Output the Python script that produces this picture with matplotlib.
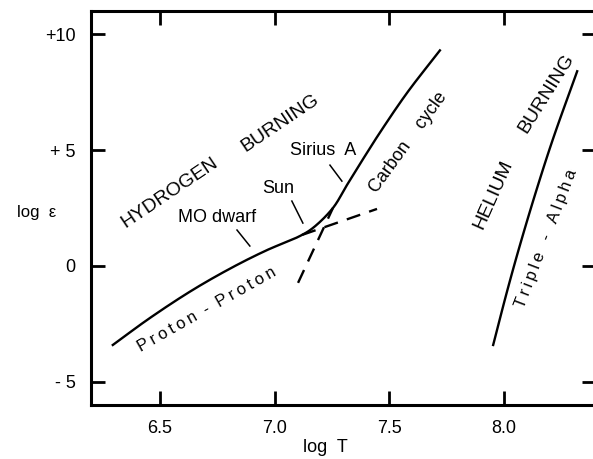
import matplotlib
matplotlib.use("Agg")
import matplotlib.pyplot as plt
import numpy as np

plt.rcParams['font.family'] = ['Liberation Sans', 'DejaVu Sans']

# Data (log T, log epsilon)
main_x = [6.295, 6.456, 6.644, 6.818, 6.966, 7.110, 7.167, 7.254, 7.315, 7.385, 7.459, 7.577, 7.72]
main_y = [-3.41, -2.25, -1.03, -0.05, 0.68, 1.29, 1.64, 2.50, 3.49, 4.61, 5.76, 7.47, 9.30]

pp_dash_x = [7.12, 7.446]
pp_dash_y = [1.34, 2.46]

cno_dash_x = [7.102, 7.254]
cno_dash_y = [-0.73, 2.50]

alpha_x = [7.952, 8.013, 8.069, 8.143, 8.213, 8.318]
alpha_y = [-3.41, -1.08, 0.91, 3.35, 5.49, 8.40]

xticks = [6.5, 7.0, 7.5, 8.0]
xticklabels = ["6.5", "7.0", "7.5", "8.0"]
yticks = [10, 5, 0, -5]
yticklabels = ["+10", "+ 5", "0", "- 5"]

YSCALE = 0.1011  # ratio of y-units to x-units on screen, for smoothing only


def smooth(xs, ys, n=24):
    """Centripetal Catmull-Rom path through the given points (drawing only)."""
    p = np.column_stack([xs, np.asarray(ys) * YSCALE]).astype(float)
    p = np.vstack([2 * p[0] - p[1], p, 2 * p[-1] - p[-2]])
    out = []
    for i in range(1, len(p) - 2):
        P0, P1, P2, P3 = p[i - 1], p[i], p[i + 1], p[i + 2]
        t0 = 0.0
        t1 = t0 + np.linalg.norm(P1 - P0) ** 0.5
        t2 = t1 + np.linalg.norm(P2 - P1) ** 0.5
        t3 = t2 + np.linalg.norm(P3 - P2) ** 0.5
        t = np.linspace(t1, t2, n, endpoint=False)[:, None]
        A1 = (t1 - t) / (t1 - t0) * P0 + (t - t0) / (t1 - t0) * P1
        A2 = (t2 - t) / (t2 - t1) * P1 + (t - t1) / (t2 - t1) * P2
        A3 = (t3 - t) / (t3 - t2) * P2 + (t - t2) / (t3 - t2) * P3
        B1 = (t2 - t) / (t2 - t0) * A1 + (t - t0) / (t2 - t0) * A2
        B2 = (t3 - t) / (t3 - t1) * A2 + (t - t1) / (t3 - t1) * A3
        C = (t2 - t) / (t2 - t1) * B1 + (t - t1) / (t2 - t1) * B2
        out.append(C)
    out.append(p[-2][None, :])
    out = np.vstack(out)
    return out[:, 0], out[:, 1] / YSCALE


fig = plt.figure(figsize=(5.93, 4.59), dpi=100)
ax = fig.add_axes([91/593, 1-405/459, (596-91)/593, (405-11)/459])
ax.set_xlim(6.2, 8.4)
ax.set_ylim(-6, 11)

lw = 1.7
ax.plot(*smooth(main_x, main_y), color='black', lw=lw)
ax.plot(pp_dash_x, pp_dash_y, color='black', lw=lw, dashes=(6, 4))
ax.plot(cno_dash_x, cno_dash_y, color='black', lw=lw, dashes=(6, 4))
ax.plot(*smooth(alpha_x, alpha_y), color='black', lw=lw)

# pointer lines
ax.plot([6.836, 6.892], [1.55, 0.86], color='black', lw=1.1)
ax.plot([7.075, 7.123], [2.8, 1.85], color='black', lw=1.1)
ax.plot([7.241, 7.293], [4.35, 3.66], color='black', lw=1.1)

for s in ax.spines.values():
    s.set_linewidth(2.2)

ax.set_xticks(xticks)
ax.set_xticklabels(xticklabels)
ax.set_yticks(yticks)
ax.set_yticklabels(yticklabels)
ax.tick_params(direction='in', length=10, width=2, labelsize=13,
               top=True, right=True, pad=11)

def lab(x, y, s, rot=0, size=12):
    ax.text(x, y, s, rotation=rot, rotation_mode='anchor', ha='center',
            va='center', fontsize=size)

ts = "\u2009"
lab(6.544, 3.15, "HYDROGEN", 34, 14)
lab(7.023, 6.16, "BURNING", 34, 14)
lab(7.21, 4.96, "Sirius  A", 0, 13)
lab(7.014, 3.36, "Sun", 0, 13)
lab(6.748, 2.07, "MO dwarf", 0, 13)
lab(7.581, 5.34, "Carbon    cycle", 54, 13)
lab(6.705, -1.9, ts.join("Proton") + "  -  " + ts.join("Proton"), 29.5, 12)
lab(7.952, 3.1, "HELIUM", 66, 14)
lab(8.183, 7.46, "BURNING", 58, 14)
lab(8.183, 1.2, ts.join("Triple") + "   -   " + ts.join("Alpha"), 69, 12)

fig.text(325/593, 1-447/459, "log  T", ha='center', va='center', fontsize=13)
fig.text(37/593, 1-212/459, "log  \u03b5", ha='center', va='center', fontsize=12)

fig.savefig("out.png", dpi=100)
